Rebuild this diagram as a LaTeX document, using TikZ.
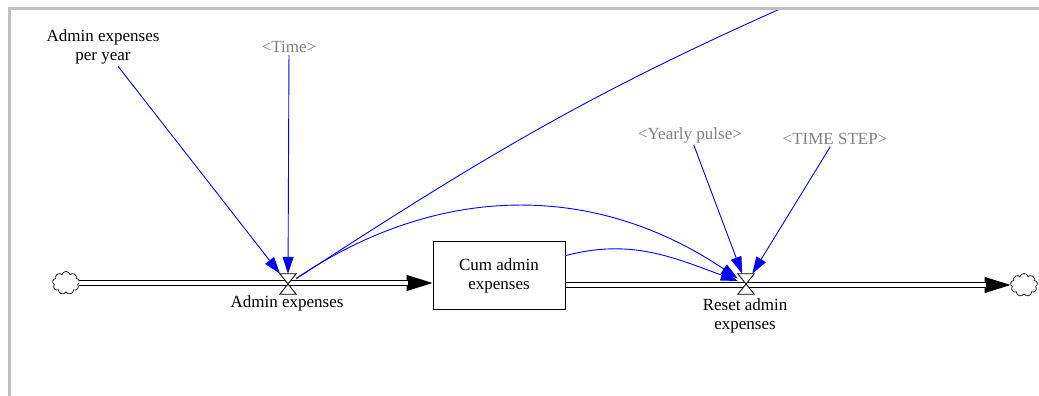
\documentclass[tikz,border=0pt]{standalone}
\usepackage{fontspec}
\setmainfont{Liberation Serif}
\usetikzlibrary{arrows.meta,shapes.symbols}
\definecolor{shadowgray}{RGB}{128,128,128}
\definecolor{framegray}{RGB}{192,192,192}
\begin{document}
\begin{tikzpicture}[x=1pt,y=1pt,
  font=\fontsize{17}{19}\selectfont,
  lbl/.style={align=center,inner sep=2pt},
  shadow/.style={lbl,text=shadowgray},
  valve/.style={minimum width=16pt,minimum height=20pt,inner sep=0pt},
  cloudy/.style={cloud,draw,cloud puffs=9,minimum width=27pt,minimum height=23pt,inner sep=0pt,line width=0.7pt},
  stockbox/.style={draw,line width=1pt,minimum width=132pt,minimum height=68pt,align=center},
  pipe/.style={double=white,double distance=3.5pt,line width=1pt},
  flowtip/.style={line width=1pt,-{Triangle[length=26pt,width=16pt]}},
  link/.style={blue,line width=0.9pt,-{Triangle[length=17pt,width=11pt]}}]
\useasboundingbox (0,0) rectangle (1039,396);

\node[lbl] (perYear) at (103,349) {Admin expenses\\per year};
\node[shadow] (time) at (289,349) {<Time>};
\node[shadow] (pulse) at (690,261) {<Yearly pulse>};
\node[shadow] (tstep) at (835,257) {<TIME STEP>};

\node[stockbox] (cum) at (499,120) {Cum admin\\expenses};
\node[valve] (v1) at (288,112) {};
\node[valve] (v2) at (746,112) {};
\node[lbl] at (287,93) {Admin expenses};
\node[lbl] at (745,80) {Reset admin\\expenses};
\node[cloudy] (cL) at (66,113) {};
\node[cloudy] (cR) at (1024,111) {};
\coordinate (edge) at (780,387);

% flows
\draw[flowtip] (cL.east) -- (cL.east -| cum.west);
\draw[pipe,shorten >=25pt] (cL.east) -- (cL.east -| cum.west);
\draw[flowtip] (cum.east |- cR.west) -- (cR.west);
\draw[pipe,shorten >=25pt] (cum.east |- cR.west) -- (cR.west);
\foreach \v in {v1,v2}
  \filldraw[fill=white,line width=0.8pt] (\v.north west) -- (\v.north east) -- (\v.south west) -- (\v.south east) -- cycle;

% links
\draw[link] (perYear) -- (v1);
\draw[link] (time) -- (v1);
\draw[link] (pulse) -- (v2);
\draw[link] (tstep) -- (v2);
\draw[link] (v1) to[bend left=34] (v2);
\draw[link] (cum.17) to[out=15,in=160] (v2);
\draw[blue,line width=0.9pt] (v1) to[out=33,in=204] (edge);

\draw[framegray,line width=3pt] (9,0) -- (9,387) -- (1039,387);
\end{tikzpicture}
\end{document}
